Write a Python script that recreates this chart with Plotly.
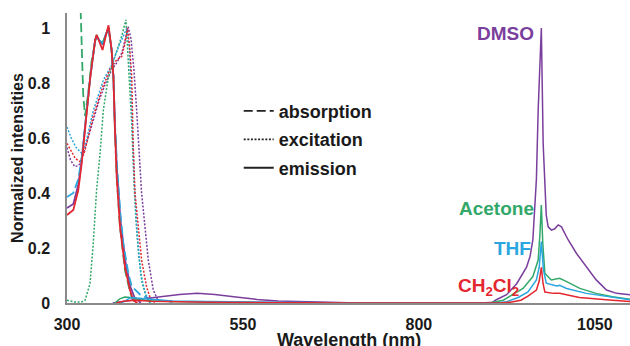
import plotly.graph_objects as go

# ---------------- data ----------------
solvents = ["CH2Cl2", "THF", "Acetone", "DMSO"]
colors = {"CH2Cl2": "#e3262f", "THF": "#2ba6de", "Acetone": "#33a86a", "DMSO": "#7a3e9d"}

# absorption (nm, normalized)
abs_wl_ch2cl2 = [300, 309, 316, 321, 326, 333, 340, 342, 346, 350.5, 355, 359, 363.4, 366, 368, 370.6, 375.3, 382.4, 389.5, 394, 400]
abs_ch2cl2 =    [0.32, 0.338, 0.41, 0.51, 0.64, 0.82, 0.956, 0.975, 0.95, 0.92, 0.97, 1.01, 0.92, 0.82, 0.64, 0.46, 0.277, 0.13, 0.047, 0.01, 0.0]
abs_wl_dmso = [300, 309, 316, 321, 326, 333, 340, 342, 346, 350.5, 355, 359, 363.4, 366, 368, 371, 376, 383, 390, 396, 405]
abs_dmso =    [0.345, 0.36, 0.43, 0.52, 0.65, 0.82, 0.956, 0.97, 0.955, 0.94, 0.975, 1.0, 0.92, 0.82, 0.65, 0.48, 0.30, 0.15, 0.06, 0.02, 0.0]
abs_wl_thf = [300, 309, 316, 321, 326, 333, 340, 342, 346, 350.5, 355, 359, 363.4, 366, 368, 371, 376, 380, 387, 392, 404, 420, 450]
abs_thf =    [0.385, 0.40, 0.45, 0.53, 0.65, 0.82, 0.956, 0.97, 0.955, 0.945, 0.975, 1.0, 0.92, 0.82, 0.66, 0.50, 0.32, 0.217, 0.11, 0.06, 0.03, 0.012, 0.004]
abs_wl_acetone = [319.4, 321, 323, 325.6, 330, 335, 340, 342, 346, 350.5, 355, 359, 363.4, 366, 368, 370.6, 375.3, 382.4, 389.5, 394, 400]
abs_acetone =    [1.065, 0.88, 0.76, 0.68, 0.76, 0.88, 0.956, 0.975, 0.955, 0.945, 0.975, 1.0, 0.92, 0.82, 0.64, 0.46, 0.277, 0.12, 0.04, 0.01, 0.0]

# excitation (nm, normalized)
exc_wl_ch2cl2 = [300, 306, 312, 318.5, 325, 337.4, 350, 361, 370.6, 377.7, 382, 386, 389, 392, 394, 396.6, 401, 406, 413, 418, 425]
exc_ch2cl2 =    [0.58, 0.55, 0.525, 0.514, 0.55, 0.68, 0.78, 0.85, 0.884, 0.896, 0.94, 1.0, 0.93, 0.82, 0.58, 0.40, 0.277, 0.156, 0.06, 0.02, 0.0]
exc_wl_thf = [300, 306, 313, 320.8, 327, 337.4, 351.6, 363.4, 373, 380, 385, 389, 393, 396, 400, 405, 412, 420]
exc_thf =    [0.64, 0.60, 0.565, 0.545, 0.585, 0.70, 0.81, 0.865, 0.93, 0.97, 1.0, 0.92, 0.65, 0.42, 0.24, 0.1, 0.03, 0.0]
exc_wl_acetone = [300, 310, 320, 325.6, 332.7, 337.4, 342, 347, 351.6, 358.7, 368, 377.7, 383.8, 388, 392, 395, 398, 402, 407, 413, 418]
exc_acetone =    [0.01, 0.004, 0.003, 0.01, 0.07, 0.22, 0.41, 0.545, 0.70, 0.82, 0.896, 0.97, 1.03, 0.85, 0.65, 0.45, 0.30, 0.17, 0.07, 0.02, 0.0]
exc_wl_dmso = [300, 305, 311, 317, 323, 330, 338, 346, 355, 363, 371, 378, 383, 387, 391, 395, 399, 406, 415.5, 422.6, 430]
exc_dmso =    [0.565, 0.52, 0.496, 0.50, 0.54, 0.60, 0.67, 0.74, 0.80, 0.845, 0.875, 0.91, 0.96, 1.005, 0.96, 0.85, 0.70, 0.40, 0.156, 0.047, 0.005]

# emission (nm, normalized)
em_wl_dmso = [365, 380, 400, 430, 460, 485, 510, 540, 570, 600, 650, 700, 800, 890, 905, 910, 924.6, 939, 953, 958, 962, 965, 967, 969.5, 972, 974, 976.6, 979, 981, 983.7, 988.4, 993, 998, 1002.6, 1012, 1024, 1038, 1052, 1066.6, 1081, 1090, 1100]
em_dmso =    [0.0, 0.006, 0.013, 0.022, 0.031, 0.035, 0.031, 0.022, 0.013, 0.007, 0.003, 0.001, 0.0, 0.0, 0.003, 0.012, 0.03, 0.07, 0.13, 0.17, 0.23, 0.387, 0.45, 0.70, 0.90, 1.0, 0.58, 0.447, 0.32, 0.277, 0.265, 0.27, 0.284, 0.277, 0.23, 0.18, 0.132, 0.084, 0.047, 0.035, 0.033, 0.03]
em_wl_acetone = [368, 375, 382, 390, 400, 420, 450, 500, 600, 700, 900, 920, 934, 948, 962, 969.5, 972, 974, 976, 979, 988, 1000, 1010, 1028.7, 1052, 1075, 1100]
em_acetone =    [0.0, 0.015, 0.022, 0.02, 0.012, 0.008, 0.005, 0.003, 0.001, 0.0, 0.0, 0.01, 0.03, 0.053, 0.096, 0.156, 0.25, 0.356, 0.22, 0.108, 0.084, 0.09, 0.078, 0.053, 0.035, 0.023, 0.014]
em_wl_thf = [375, 382, 390, 400, 420, 450, 500, 600, 700, 910, 925, 941, 955, 967, 971, 974, 977, 981, 995.6, 1000, 1010, 1038, 1075, 1100]
em_thf =    [0.0, 0.006, 0.02, 0.018, 0.012, 0.007, 0.005, 0.002, 0.0, 0.0, 0.005, 0.02, 0.04, 0.084, 0.13, 0.223, 0.12, 0.072, 0.062, 0.064, 0.053, 0.035, 0.02, 0.012]
em_wl_ch2cl2 = [370, 380, 395, 420, 500, 600, 700, 915, 930, 945, 955, 967, 971, 974, 976.5, 979, 991, 1000, 1028, 1075, 1100]
em_ch2cl2 =    [0.0, 0.006, 0.01, 0.006, 0.003, 0.001, 0.0, 0.0, 0.003, 0.01, 0.025, 0.047, 0.08, 0.13, 0.07, 0.04, 0.035, 0.035, 0.02, 0.01, 0.005]

x_ticks = [300, 550, 800, 1050]
y_ticks = [0, 0.2, 0.4, 0.6, 0.8, 1]
y_tick_text = ["0", "0.2", "0.4", "0.6", "0.8", "1"]
legend_names = ["absorption", "excitation", "emission"]
x_title = "Wavelength (nm)"
y_title = "Normalized intensities"

# ---------------- figure ----------------
DASH = "9px,4px"
DOT = "2px,1.6px"

absorption = {
    "CH2Cl2": (abs_wl_ch2cl2, abs_ch2cl2, "solid"),
    "DMSO": (abs_wl_dmso, abs_dmso, "solid"),
    "THF": (abs_wl_thf, abs_thf, DASH),
    "Acetone": (abs_wl_acetone, abs_acetone, DASH),
}
excitation = {
    "CH2Cl2": (exc_wl_ch2cl2, exc_ch2cl2),
    "THF": (exc_wl_thf, exc_thf),
    "Acetone": (exc_wl_acetone, exc_acetone),
    "DMSO": (exc_wl_dmso, exc_dmso),
}
emission = {
    "DMSO": (em_wl_dmso, em_dmso),
    "Acetone": (em_wl_acetone, em_acetone),
    "THF": (em_wl_thf, em_thf),
    "CH2Cl2": (em_wl_ch2cl2, em_ch2cl2),
}

fig = go.Figure()
for s in ["DMSO", "Acetone", "THF", "CH2Cl2"]:
    wl, v = excitation[s]
    fig.add_trace(go.Scatter(x=wl, y=v, mode="lines", showlegend=False,
                             line=dict(color=colors[s], width=1.5, dash=DOT)))
for s in ["DMSO", "Acetone", "THF", "CH2Cl2"]:
    wl, v, d = absorption[s]
    fig.add_trace(go.Scatter(x=wl, y=v, mode="lines", showlegend=False,
                             line=dict(color=colors[s], width=1.8, dash=d)))
for s in ["DMSO", "Acetone", "THF", "CH2Cl2"]:
    wl, v = emission[s]
    fig.add_trace(go.Scatter(x=wl, y=v, mode="lines", showlegend=False,
                             line=dict(color=colors[s], width=1.5)))

# legend keys
for name, d in zip(legend_names, [DASH, DOT, "solid"]):
    fig.add_trace(go.Scatter(x=[None], y=[None], mode="lines", name=name,
                             legendgroup=name, showlegend=True,
                             line=dict(color="#222222", width=1.8, dash=d)))

label_font = dict(family="Liberation Sans, Arial", size=19, weight="bold")
labels = [
    ("DMSO", 966, 0.98, "DMSO"),
    ("Acetone", 966, 0.342, "Acetone"),
    ("THF", 962, 0.20, "THF"),
    ("CH<sub>2</sub>Cl<sub>2</sub>", 945, 0.06, "CH2Cl2"),
]
for txt, lx, ly, s in labels:
    fig.add_annotation(x=lx, y=ly, text=txt, showarrow=False, xanchor="right",
                       yanchor="middle", font=dict(color=colors[s], **label_font))

# x axis title (placed just below tick labels, bottom edge cropped like the original)
fig.add_annotation(x=0.5, y=0, xref="paper", yref="paper", text=x_title, showarrow=False,
                   xanchor="center", yanchor="top", yshift=-25,
                   font=dict(family="Liberation Sans, Arial", size=18, weight="bold", color="#1a1a1a"))

axis_font = dict(family="Liberation Sans, Arial", size=16, weight="bold", color="#1a1a1a")
fig.update_layout(
    width=630, height=346,
    margin=dict(l=67, r=0, t=13, b=43),
    paper_bgcolor="white", plot_bgcolor="white",
    showlegend=True,
    legend=dict(x=0.305, y=0.725, xanchor="left", yanchor="top",
                bgcolor="rgba(0,0,0,0)", tracegroupgap=2, traceorder="grouped",
                font=dict(family="Liberation Sans, Arial", size=18, weight="bold", color="#1a1a1a")),
    xaxis=dict(range=[300, 1100], tickvals=x_ticks, showgrid=False, zeroline=False,
               showline=True, linecolor="#8a8a8a", linewidth=1.5, ticks="",
               tickfont=axis_font, ticklabelstandoff=6, automargin=False),
    yaxis=dict(range=[0, 1.0545], tickvals=y_ticks, ticktext=y_tick_text, showgrid=False,
               zeroline=False, showline=True, linecolor="#8a8a8a", linewidth=1.5, ticks="",
               tickfont=axis_font, ticklabelstandoff=12, automargin=False,
               title=dict(text=y_title, standoff=0,
                          font=dict(family="Liberation Sans, Arial", size=16, weight="bold", color="#1a1a1a"))),
)

fig.write_html("out.html")
